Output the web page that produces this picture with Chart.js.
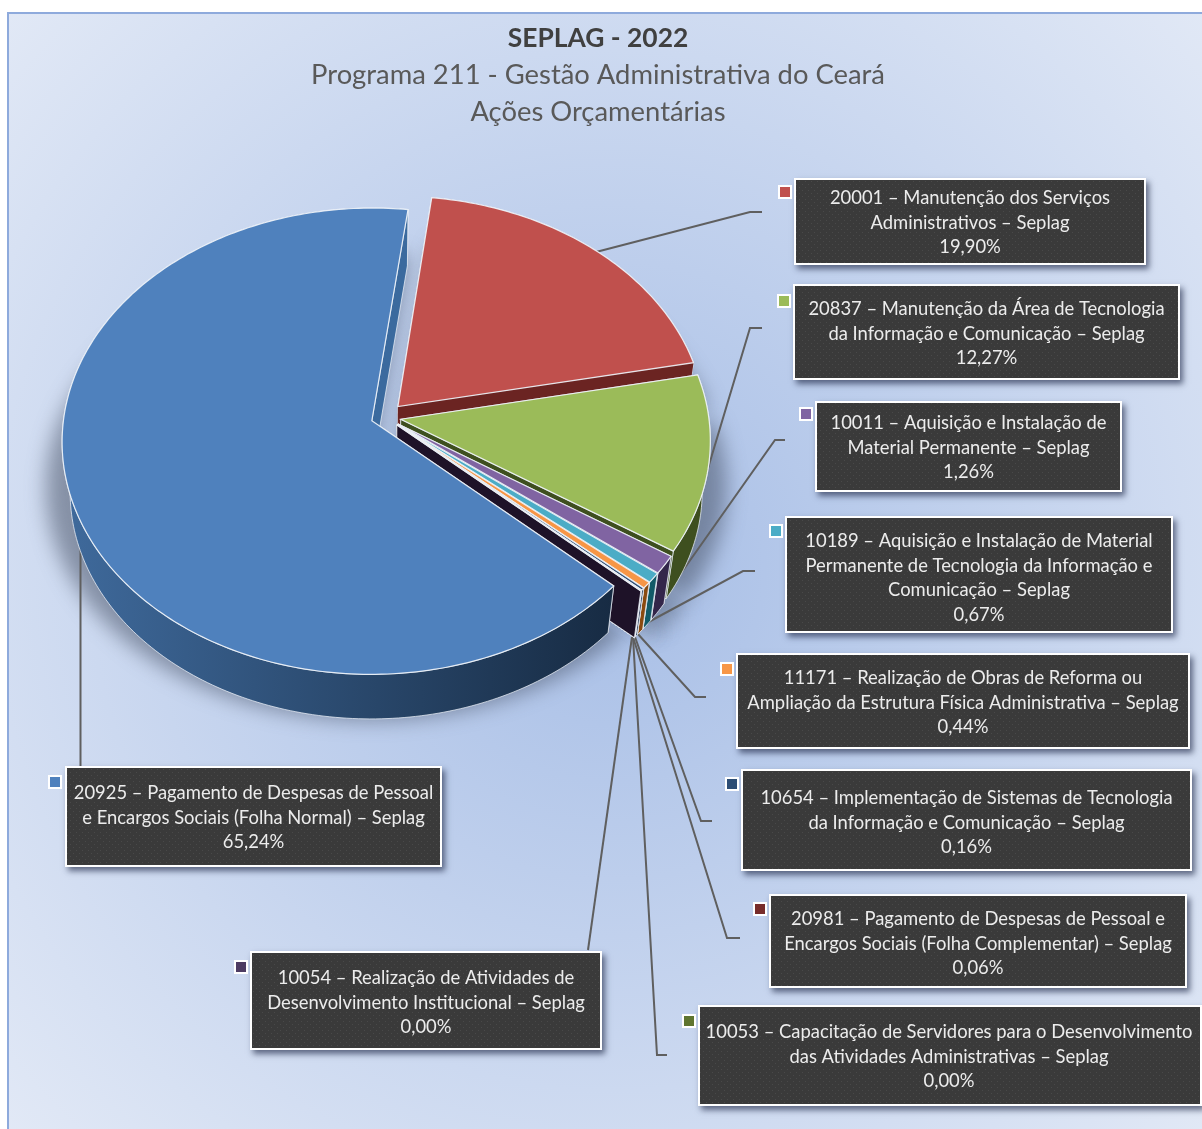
<!DOCTYPE html>
<html lang="pt-BR"><head><meta charset="utf-8">
<style>html,body{margin:0;padding:0;background:#fff}canvas{display:block}</style>
<script src="https://cdn.jsdelivr.net/npm/chart.js@4/dist/chart.umd.min.js"></script>
</head><body>
<canvas id="c" width="1202" height="1129"></canvas>
<script>
// ---- data ----
const titleText = 'SEPLAG - 2022';
const subtitleLines = ['Programa 211 - Gestão Administrativa do Ceará', 'Ações Orçamentárias'];
const categories = ['20001','20837','10011','10189','11171','10654','20981','10053','10054','20925'];
const shares = [19.90,12.27,1.26,0.67,0.44,0.16,0.06,0.00,0.00,65.24];
const labelLines = [
 ['20001 – Manutenção dos Serviços','Administrativos – Seplag'],
 ['20837 – Manutenção da Área de Tecnologia','da Informação e Comunicação – Seplag'],
 ['10011 – Aquisição e Instalação de','Material Permanente – Seplag'],
 ['10189 – Aquisição e Instalação de Material','Permanente de Tecnologia da Informação e','Comunicação – Seplag'],
 ['11171 – Realização de Obras de Reforma ou','Ampliação da Estrutura Física Administrativa – Seplag'],
 ['10654 – Implementação de Sistemas de Tecnologia','da Informação e Comunicação – Seplag'],
 ['20981 – Pagamento de Despesas de Pessoal e','Encargos Sociais (Folha Complementar) – Seplag'],
 ['10053 – Capacitação de Servidores para o Desenvolvimento','das Atividades Administrativas – Seplag'],
 ['10054 – Realização de Atividades de','Desenvolvimento Institucional – Seplag'],
 ['20925 – Pagamento de Despesas de Pessoal','e Encargos Sociais (Folha Normal) – Seplag']
];
// ---- styling ----
const topColors = ['#c0504d','#9bbb59','#8064a2','#4bacc6','#f79646','#2c4d75','#772c2a','#5f7530','#4d3b62','#4f81bd'];
const wallShades = [['#6b2422','#6b2422'],['#3e4f1f','#3e4f1f'],['#33264a','#33264a'],['#125a68','#125a68'],['#8a4a10','#8a4a10'],['#1b2e4a','#1b2e4a'],['#3d1615','#3d1615'],['#2f3a18','#2f3a18'],['#1e1228','#1e1228'],['#3f6a9c','#172b43']];
const explode = [19,16,16,16,16,16,16,16,16,14];
const boxes = [[794,178,1146,265],[793,284,1180,380],[815,401,1122,492],[785,516,1173,633],[736,653,1190,749],[741,769,1192,871],[769,894,1187,988],[698,1005,1202,1106],[250,951,602,1050],[65,766,442,867]];
const textFirstY = [198,309,423,541,678,798,919,1032,978,793];
const lineGap = 24.6;
const keys = [[785,192],[784,301],[806,414],[776,531],[727,669],[732,784],[760,909],[689,1021],[241,967],[55,782]];
const leaders = [
 [[596,252],[750,212],[762,212]],
 [[676,575],[750,328],[762,328]],
 [[667,593],[775,440],[785,440]],
 [[643,625],[743,571],[755,571]],
 [[637,633],[695,697],[706,697]],
 [[635,637],[701,821],[712,821]],
 [[633,637],[727,938],[740,938]],
 [[633,637],[657,1055],[667,1055]],
 [[632,637],[588,950]],
 [[80.5,547],[80.5,766]]
];
const CX=385, CY=417, RX=308, RY=230.7, PERSP=0.088, LOW=0.975, DROP=51;
const FONT='Lato, "Open Sans", sans-serif';

function proj(ox,oy,u,v,low){
  const nx=u+ox, ny=v+oy, k=1/(1-PERSP*ny);
  let X=CX+nx*k*RX, Y=CY+ny*k*RY;
  if(low){X=CX+(X-CX)*LOW; Y=CY+(Y-CY)*LOW+DROP;}
  return [X,Y];
}
function sliceGeom(arc){
  const s=arc.startAngle, e=arc.endAngle, m=(s+e)/2, off=(arc.options.offset||0)/RX;
  const ox=Math.cos(m)*off, oy=Math.sin(m)*off;
  const n=Math.max(1,Math.ceil((e-s)/(Math.PI/180)));
  const rimTop=[], rimLow=[];
  for(let i=0;i<=n;i++){const a=s+(e-s)*i/n; rimTop.push(proj(ox,oy,Math.cos(a),Math.sin(a),false)); rimLow.push(proj(ox,oy,Math.cos(a),Math.sin(a),true));}
  return {tipTop:proj(ox,oy,0,0,false),tipLow:proj(ox,oy,0,0,true),rimTop,rimLow};
}
function poly(ctx,pts){ctx.beginPath();pts.forEach((p,i)=>i?ctx.lineTo(p[0],p[1]):ctx.moveTo(p[0],p[1]));ctx.closePath();}

const pie3d={
 id:'pie3d',
 beforeDraw(chart){
  const ctx=chart.ctx; ctx.save();
  ctx.fillStyle='#fff'; ctx.fillRect(0,0,1202,1129);
  const g=ctx.createRadialGradient(610,570,0,610,570,830);
  g.addColorStop(0,'#a7bee6'); g.addColorStop(1,'#e2e9f6');
  ctx.fillStyle=g; ctx.fillRect(8,12,1194,1117);
  ctx.fillStyle='#8eaadc'; ctx.fillRect(7,12,1195,2); ctx.fillRect(7,12,2,1117);
  ctx.restore();
 },
 beforeDatasetsDraw(chart){
  const ctx=chart.ctx, arcs=chart.getDatasetMeta(0).data;
  const geoms=arcs.map(sliceGeom);
  ctx.save();
  // soft shadow under the pie
  ctx.filter='blur(10px)'; ctx.fillStyle='rgba(62,72,92,0.5)';
  geoms.forEach(g=>{
    const pts=[g.tipTop,...g.rimTop].map(p=>[CX+(p[0]-CX)*1.05,p[1]+46]);
    poly(ctx,pts); ctx.fill();
  });
  ctx.filter='none';
  // leader lines
  ctx.strokeStyle='#5f5f5f'; ctx.lineWidth=2; ctx.lineJoin='miter';
  leaders.forEach(l=>{ctx.beginPath();l.forEach((p,i)=>i?ctx.lineTo(p[0],p[1]):ctx.moveTo(p[0],p[1]));ctx.stroke();});
  // slices, back to front
  geoms.forEach((g,i)=>{
    const shade=wallShades[i];
    const xs=g.rimTop.map(p=>p[0]);
    const lg=ctx.createLinearGradient(Math.min(...xs),0,Math.max(Math.max(...xs),Math.min(...xs)+1),0);
    lg.addColorStop(0,shade[0]); lg.addColorStop(1,shade[1]);
    ctx.fillStyle=lg; ctx.strokeStyle='rgba(235,240,248,0.75)'; ctx.lineWidth=1;
    const last=g.rimTop.length-1;
    poly(ctx,[g.tipTop,g.rimTop[0],g.rimLow[0],g.tipLow]); ctx.fill(); ctx.stroke();
    poly(ctx,[...g.rimTop,...g.rimLow.slice().reverse()]); ctx.fill(); ctx.stroke();
    poly(ctx,[g.tipTop,g.rimTop[last],g.rimLow[last],g.tipLow]);
    ctx.fillStyle=(i===9)?'#3b6a9e':lg;
    ctx.fill();
    if(i!==0) ctx.stroke();
    poly(ctx,[g.tipTop,...g.rimTop]);
    ctx.fillStyle=arcs[i].options.backgroundColor; ctx.fill();
    ctx.strokeStyle='rgba(240,244,250,0.9)'; ctx.lineWidth=1.2; ctx.stroke();
  });
  ctx.restore();
  return false;
 },
 afterDraw(chart){
  const ctx=chart.ctx;
  const pc=document.createElement('canvas'); pc.width=6; pc.height=6;
  const p=pc.getContext('2d'); p.fillStyle='#3a3a3a'; p.fillRect(0,0,6,6);
  p.fillStyle='#494949'; p.fillRect(1,1,1,1); p.fillRect(4,4,1,1);
  const pat=ctx.createPattern(pc,'repeat');
  ctx.save();
  boxes.forEach((b,i)=>{
    const [x0,y0,x1,y1]=b;
    ctx.save();
    ctx.shadowColor='rgba(30,40,70,0.65)'; ctx.shadowBlur=6; ctx.shadowOffsetX=3; ctx.shadowOffsetY=4;
    ctx.fillStyle='#fff'; ctx.fillRect(x0,y0,x1-x0,y1-y0);
    ctx.restore();
    ctx.fillStyle=pat; ctx.fillRect(x0+2,y0+2,x1-x0-4,y1-y0-4);
    const cx=(x0+x1)/2-(i===7?1:0);
    ctx.fillStyle='#ececec'; ctx.font='18.4px '+FONT; ctx.textAlign='center'; ctx.textBaseline='middle';
    const lines=[...labelLines[i], shares[i].toFixed(2).replace('.',',')+'%'];
    lines.forEach((t,j)=>ctx.fillText(t,cx,textFirstY[i]+j*lineGap));
    const k=keys[i];
    ctx.fillStyle='#fff'; ctx.fillRect(k[0]-7,k[1]-7,14,14);
    ctx.fillStyle=topColors[i]; ctx.fillRect(k[0]-5,k[1]-5,10,10);
  });
  ctx.restore();
 }
};

new Chart(document.getElementById('c'),{
 type:'pie',
 plugins:[pie3d],
 data:{labels:categories,datasets:[{data:shares,backgroundColor:topColors,offset:explode,borderWidth:0}]},
 options:{
  responsive:false,animation:false,rotation:7.1,
  layout:{padding:{right:6,top:20}},
  plugins:{
   legend:{display:false},tooltip:{enabled:false},
   title:{display:true,text:titleText,color:'#404040',font:{family:FONT,size:26.4,weight:'bold'},padding:{top:3,bottom:2}},
   subtitle:{display:true,text:subtitleLines,color:'#595959',font:{family:FONT,size:27.4,weight:'normal',lineHeight:1.35}}
  }
 }
});
</script>
</body></html>
